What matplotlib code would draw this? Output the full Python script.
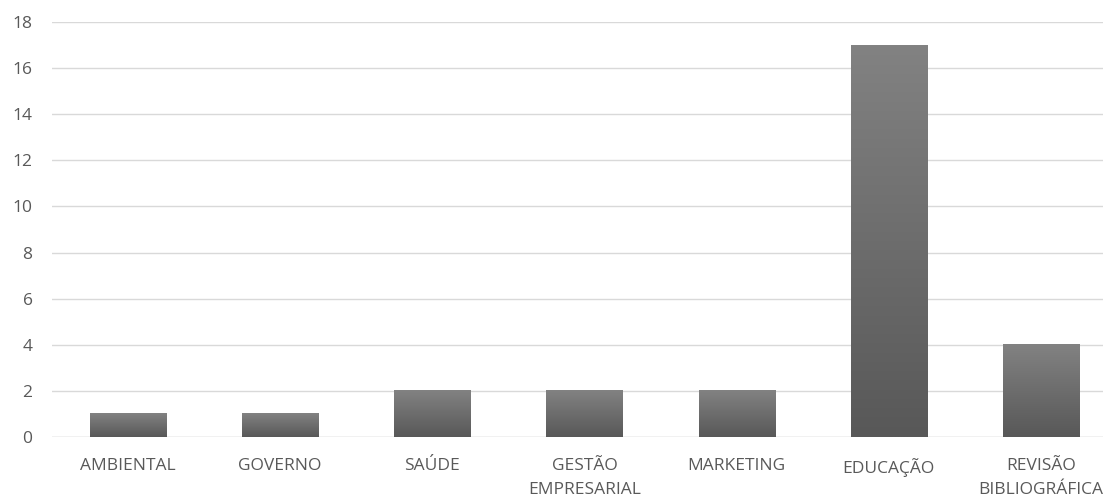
import numpy as np
import matplotlib.pyplot as plt
from matplotlib.colors import LinearSegmentedColormap

plt.rcParams['font.family'] = ['Open Sans', 'DejaVu Sans']

# Data
categories = ['AMBIENTAL', 'GOVERNO', 'SAÚDE', 'GESTÃO\nEMPRESARIAL',
              'MARKETING', 'EDUCAÇÃO', 'REVISÃO\nBIBLIOGRÁFICA']
values = [1, 1, 2, 2, 2, 17, 4]
yticks = [0, 2, 4, 6, 8, 10, 12, 14, 16, 18]

fig = plt.figure(figsize=(11.03, 4.98), dpi=100)
ax = fig.add_axes([0.0471, 0.1225, 0.9656, 0.8333])

x = np.arange(len(categories))
bars = ax.bar(x, values, width=0.5, color='#6a6a6a', edgecolor='none', zorder=2)

# vertical gradient inside each bar
cmap = LinearSegmentedColormap.from_list('g', ['#585858', '#828282'])
grad = np.linspace(0, 1, 256).reshape(-1, 1)
for b in bars:
    bx, by = b.get_x(), b.get_y()
    ax.imshow(grad, cmap=cmap, origin='lower', aspect='auto',
              extent=[bx, bx + b.get_width(), by, by + b.get_height()],
              zorder=3)

ax.set_xlim(-0.5, len(categories) - 0.5)
ax.set_ylim(0, 18)
ax.set_yticks(yticks)
ax.set_xticks(x)
ax.set_xticklabels(categories, fontsize=12.5, color='#595959', linespacing=1.7)
ax.tick_params(axis='y', labelsize=12.5, labelcolor='#595959', length=0, pad=14)
ax.tick_params(axis='x', length=0, pad=15)
ax.grid(axis='y', color='#d9d9d9', linewidth=1, zorder=0)
for s in ax.spines.values():
    s.set_visible(False)
ax.axhline(0, color='#d9d9d9', linewidth=1, zorder=1)

fig.savefig('out.png', dpi=100)
